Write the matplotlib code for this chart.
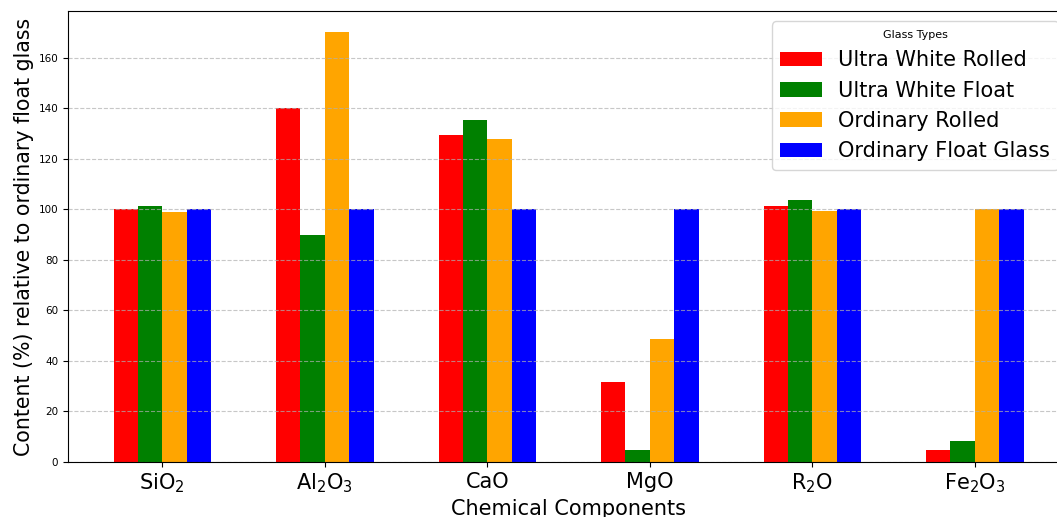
import numpy as np
import matplotlib
matplotlib.use("Agg")
import matplotlib.pyplot as plt

components = ["SiO$_2$", "Al$_2$O$_3$", "CaO", "MgO", "R$_2$O", "Fe$_2$O$_3$"]
ultra_white_rolled = [100, 140, 129.4, 31.7, 101.5, 4.8]
ultra_white_float = [101.4, 90, 135.4, 4.8, 103.8, 8.4]
ordinary_rolled = [98.8, 170, 128.0, 48.6, 99.4, 100]
ordinary_float = [100, 100, 100, 100, 100, 100]

series = [
    ("Ultra White Rolled", ultra_white_rolled, "red"),
    ("Ultra White Float", ultra_white_float, "green"),
    ("Ordinary Rolled", ordinary_rolled, "orange"),
    ("Ordinary Float Glass", ordinary_float, "blue"),
]

fig = plt.figure(figsize=(10.57, 5.17), dpi=100)
ax = fig.add_axes([68/1057, 55/517, 1001/1057, 451/517])

x = np.arange(len(components))
width = 0.15
for i, (name, vals, color) in enumerate(series):
    ax.bar(x + (i - 1.5) * width, vals, width, label=name, color=color)

ax.set_xticks(x)
ax.set_xticklabels(components, fontsize=15)
ax.tick_params(axis='y', labelsize=7.5)
ax.set_xlabel("Chemical Components", fontsize=15, labelpad=3)
ax.set_ylabel("Content (%) relative to ordinary float glass", fontsize=14.8, labelpad=3)
ax.grid(axis='y', linestyle='--', alpha=0.7)
leg = ax.legend(title="Glass Types", fontsize=15, title_fontsize=8, loc='upper right')

fig.savefig("out.png", dpi=100)
